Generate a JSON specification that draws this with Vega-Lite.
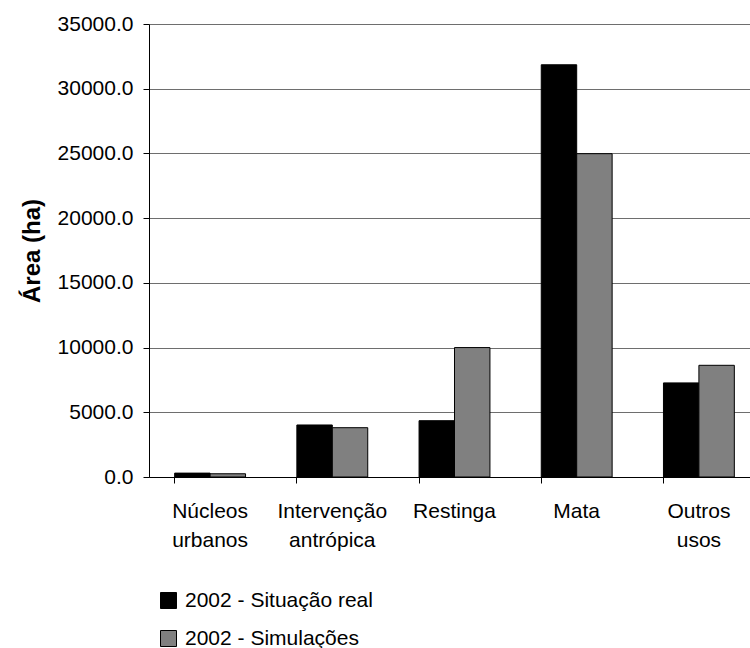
{
  "$schema": "https://vega.github.io/schema/vega-lite/v6.json",
  "width": 601,
  "height": 453,
  "autosize": {"type": "none"},
  "padding": {"left": 149, "top": 24, "right": 0, "bottom": 171},
  "background": "white",
  "config": {"view": {"stroke": null}, "font": "Liberation Sans"},
  "data": {
    "values": [
      {"categoria": "Núcleos urbanos", "serie": "2002 - Situação real", "area": 300},
      {"categoria": "Núcleos urbanos", "serie": "2002 - Simulações", "area": 250},
      {"categoria": "Intervenção antrópica", "serie": "2002 - Situação real", "area": 4020},
      {"categoria": "Intervenção antrópica", "serie": "2002 - Simulações", "area": 3810},
      {"categoria": "Restinga", "serie": "2002 - Situação real", "area": 4350},
      {"categoria": "Restinga", "serie": "2002 - Simulações", "area": 10000},
      {"categoria": "Mata", "serie": "2002 - Situação real", "area": 31850},
      {"categoria": "Mata", "serie": "2002 - Simulações", "area": 24980},
      {"categoria": "Outros usos", "serie": "2002 - Situação real", "area": 7270},
      {"categoria": "Outros usos", "serie": "2002 - Simulações", "area": 8630}
    ]
  },
  "layer": [
    {
      "mark": {"type": "bar", "stroke": "black", "strokeWidth": 1},
      "encoding": {
        "x": {
          "field": "categoria",
          "type": "nominal",
          "sort": ["Núcleos urbanos", "Intervenção antrópica", "Restinga", "Mata", "Outros usos"],
          "scale": {"range": [0, 611], "paddingInner": 0.42, "paddingOuter": 0.21},
          "axis": {
            "orient": "bottom",
            "title": null,
            "labelAngle": 0,
            "ticks": false,
            "domain": true,
            "domainColor": "black",
            "domainWidth": 1,
            "grid": false,
            "labelExpr": "split(datum.label, ' ')",
            "labelFontSize": 21,
            "labelColor": "black",
            "labelPadding": 23,
            "labelLineHeight": 29,
            "labelFont": "Liberation Sans"
          }
        },
        "xOffset": {
          "field": "serie",
          "type": "nominal",
          "sort": ["2002 - Situação real", "2002 - Simulações"],
          "scale": {"paddingInner": 0, "paddingOuter": 0}
        },
        "y": {
          "field": "area",
          "type": "quantitative",
          "scale": {"domain": [0, 35000], "nice": false},
          "axis": {
            "title": "Área (ha)",
            "titleFontSize": 24,
            "titleFontWeight": "bold",
            "titleColor": "black",
            "titleFont": "Liberation Sans",
            "titlePadding": 13,
            "values": [0, 5000, 10000, 15000, 20000, 25000, 30000, 35000],
            "format": ".1f",
            "labelFontSize": 21,
            "labelColor": "black",
            "labelFont": "Liberation Sans",
            "labelPadding": 10,
            "tickSize": 6,
            "tickColor": "black",
            "domainColor": "black",
            "grid": true,
            "gridColor": "#6e6e6e",
            "gridWidth": 1.2
          }
        },
        "color": {
          "field": "serie",
          "type": "nominal",
          "scale": {"domain": ["2002 - Situação real", "2002 - Simulações"], "range": ["#000000", "#808080"]},
          "legend": {
            "title": null,
            "orient": "none",
            "legendX": 9,
            "legendY": 566,
            "direction": "vertical",
            "symbolType": "square",
            "symbolSize": 256,
            "symbolStrokeColor": "black",
            "symbolStrokeWidth": 1,
            "symbolOpacity": 1,
            "labelFontSize": 21,
            "labelColor": "black",
            "labelFont": "Liberation Sans",
            "labelOffset": 6,
            "labelLimit": 500,
            "rowPadding": 16
          }
        }
      }
    },
    {
      "mark": {"type": "rule", "opacity": 0},
      "encoding": {
        "x": {
          "field": "categoria",
          "type": "nominal",
          "sort": ["Núcleos urbanos", "Intervenção antrópica", "Restinga", "Mata", "Outros usos"],
          "axis": {
            "orient": "bottom",
            "title": null,
            "labels": false,
            "ticks": true,
            "tickSize": 6,
            "tickColor": "black",
            "bandPosition": 0,
            "domain": false,
            "grid": false
          }
        }
      }
    }
  ],
  "resolve": {"axis": {"x": "independent"}}
}
